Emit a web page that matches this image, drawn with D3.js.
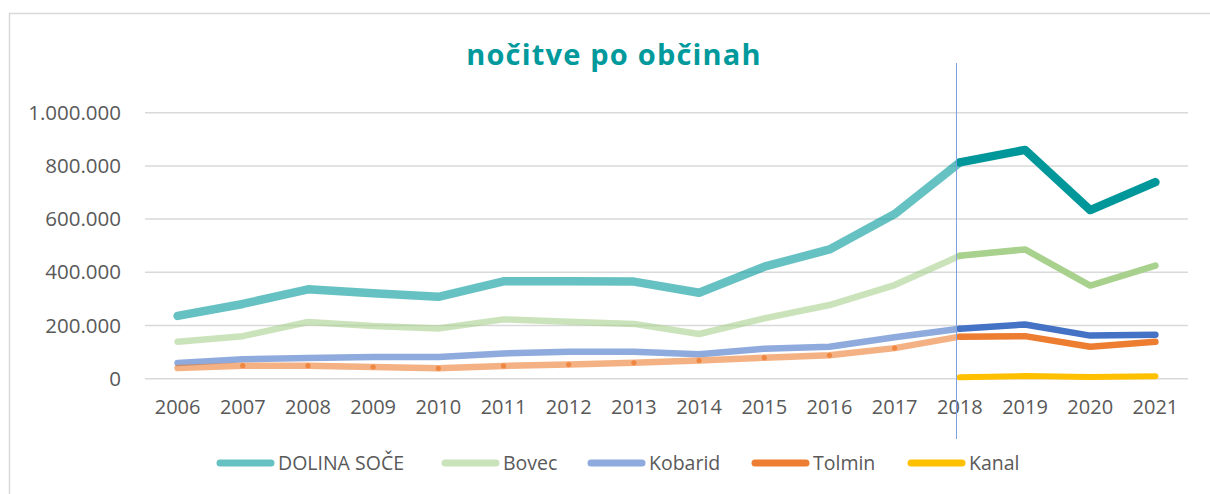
<!DOCTYPE html>
<html>
<head>
<meta charset="utf-8">
<script src="https://cdn.jsdelivr.net/npm/d3@7"></script>
<style>
  body { margin: 0; background: #fff; }
  svg { display: block; }
</style>
</head>
<body>
<script>
const years = [2006, 2007, 2008, 2009, 2010, 2011, 2012, 2013, 2014, 2015, 2016, 2017, 2018, 2019, 2020, 2021];
const yTicks = [0, 200000, 400000, 600000, 800000, 1000000];
const splitYear = 2018;

const dolinaSoce = [236000, 281000, 336000, 321000, 308000, 366000, 366000, 365000, 323000, 421000, 486000, 619000, 813000, 860000, 634000, 739000];
const bovec = [139000, 160000, 213000, 198000, 189000, 223000, 214000, 206000, 168000, 227000, 277000, 352000, 462000, 486000, 350000, 425000];
const kobarid = [59000, 73000, 78000, 82000, 82000, 95000, 101000, 101000, 92000, 113000, 120000, 156000, 188000, 204000, 162000, 165000];
const tolmin = [40000, 49000, 49000, 44000, 39000, 48000, 53000, 60000, 68000, 79000, 88000, 115000, 158000, 160000, 120000, 139000];
const kanal = [null, null, null, null, null, null, null, null, null, null, null, null, 5000, 10000, 6000, 9000];

const series = [
  { name: "DOLINA SOČE", values: dolinaSoce, color: "#00979A", width: 8.5, legendAlpha: 0.6 },
  { name: "Bovec", values: bovec, color: "#A9D18E", width: 6.5, legendAlpha: 0.6 },
  { name: "Kobarid", values: kobarid, color: "#4472C4", width: 6.5, legendAlpha: 0.6 },
  { name: "Tolmin", values: tolmin, color: "#ED7D31", width: 6.5, legendAlpha: 1, markers: true },
  { name: "Kanal", values: kanal, color: "#FFC000", width: 6, legendAlpha: 1 },
];

const W = 1210, H = 494;
const plot = { left: 145, right: 1188, top: 112.7, bottom: 378.7 };

const svg = d3.select("body").append("svg").attr("width", W).attr("height", H);

// chart border
svg.append("rect")
  .attr("x", 9.5).attr("y", 13.5)
  .attr("width", W + 10).attr("height", H + 10)
  .attr("fill", "none").attr("stroke", "#d9d9d9").attr("stroke-width", 1.5);

const x = d3.scaleBand().domain(years).range([plot.left, plot.right]);
const y = d3.scaleLinear().domain([0, 1000000]).range([plot.bottom, plot.top]);
const cx = (yr) => x(yr) + x.bandwidth() / 2;

const locale = d3.formatLocale({ decimal: ",", thousands: ".", grouping: [3], currency: ["", ""] });
const fmt = locale.format(",d");

// gridlines
svg.append("g")
  .selectAll("line")
  .data(yTicks)
  .join("line")
  .attr("x1", plot.left).attr("x2", plot.right)
  .attr("y1", (d) => y(d)).attr("y2", (d) => y(d))
  .attr("stroke", "#d9d9d9").attr("stroke-width", 1.5);

// y axis
const yAxis = d3.axisLeft(y).tickValues(yTicks).tickFormat(fmt).tickSize(0).tickPadding(24);
const yg = svg.append("g").attr("transform", `translate(${plot.left},0)`).call(yAxis);
yg.select(".domain").remove();
yg.selectAll("text").attr("font-size", 20.5).attr("font-family", "Open Sans").attr("fill", "#595959");

// x axis
const xAxis = d3.axisBottom(x).tickSize(0).tickPadding(21);
const xg = svg.append("g").attr("transform", `translate(0,${plot.bottom})`).call(xAxis);
xg.select(".domain").remove();
xg.selectAll("text").attr("font-size", 20).attr("font-family", "Open Sans").attr("fill", "#595959");

// title
svg.append("text")
  .attr("x", 614).attr("y", 65)
  .attr("text-anchor", "middle")
  .attr("font-family", "Open Sans").attr("font-weight", "bold").attr("font-size", 29)
  .attr("letter-spacing", 1.2)
  .attr("fill", "#00999C")
  .text("nočitve po občinah");

const line = d3.line()
  .defined((d) => d.v != null)
  .x((d) => cx(d.yr))
  .y((d) => y(d.v));

const linesG = svg.append("g");
series.forEach((s) => {
  const pts = years.map((yr, i) => ({ yr, v: s.values[i] }));
  const early = pts.filter((d) => d.yr <= splitYear);
  const late = pts.filter((d) => d.yr >= splitYear);
  if (early.filter((d) => d.v != null).length > 1) {
    linesG.append("path")
      .attr("d", line(early))
      .attr("fill", "none").attr("stroke", s.color).attr("stroke-opacity", 0.6)
      .attr("stroke-width", s.width)
      .attr("stroke-linecap", "round").attr("stroke-linejoin", "round");
    if (s.markers) {
      linesG.append("g")
        .selectAll("circle")
        .data(early.filter((d) => d.yr > years[0] && d.yr < splitYear))
        .join("circle")
        .attr("cx", (d) => cx(d.yr)).attr("cy", (d) => y(d.v))
        .attr("r", 2.6).attr("fill", s.color).attr("fill-opacity", 0.8);
    }
  }
  linesG.append("path")
    .attr("d", line(late))
    .attr("fill", "none").attr("stroke", s.color)
    .attr("stroke-width", s.width)
    .attr("stroke-linecap", "round").attr("stroke-linejoin", "round");
});

// vertical marker line at 2018
const vx = Math.round(cx(splitYear) - 4) + 0.5;
svg.append("line")
  .attr("x1", vx).attr("x2", vx)
  .attr("y1", 63).attr("y2", 439)
  .attr("stroke", "#7FA0E0").attr("stroke-width", 1);

// legend
const legendX = [216, 441, 587, 751, 907];
const legend = svg.append("g")
  .selectAll("g")
  .data(series)
  .join("g")
  .attr("transform", (d, i) => `translate(${legendX[i]},463)`);
legend.append("line")
  .attr("x1", 4).attr("x2", 55)
  .attr("stroke", (d) => d.color).attr("stroke-opacity", (d) => d.legendAlpha)
  .attr("stroke-width", 7).attr("stroke-linecap", "round");
legend.append("text")
  .attr("x", 62).attr("dy", "0.35em")
  .attr("font-family", "Open Sans").attr("font-size", 19.5).attr("fill", "#595959")
  .text((d) => d.name);
</script>
</body>
</html>
